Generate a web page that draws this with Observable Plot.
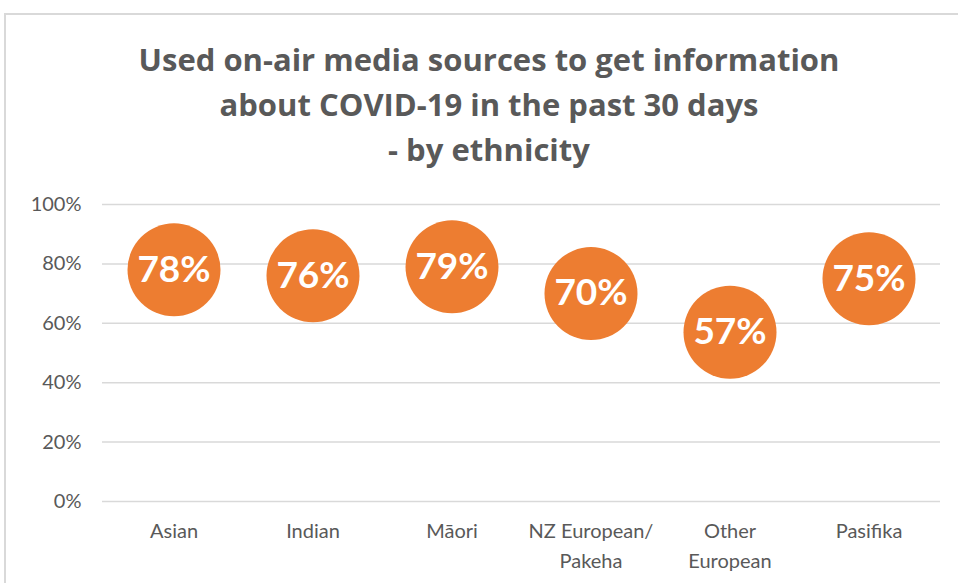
<!DOCTYPE html>
<html><head><meta charset="utf-8">
<script src="https://cdn.jsdelivr.net/npm/d3@7"></script>
<script src="https://cdn.jsdelivr.net/npm/@observablehq/plot@0.6"></script>
<style>
body{margin:0;background:#fff;overflow:hidden;}
#frame{position:absolute;left:4px;top:13px;width:1000px;height:600px;border-left:2px solid #d9d9d9;border-top:2px solid #d9d9d9;}
#title{position:absolute;left:0;top:37px;width:978px;text-align:center;font-family:"Open Sans",sans-serif;font-weight:bold;font-size:31px;color:#595959;line-height:45px;}
#chart{position:absolute;left:0;top:170px;}
</style>
</head><body>
<div id="frame"></div>
<div id="title">Used on-air media sources to get information<br>about COVID-19 in the past 30 days<br>- by ethnicity</div>
<div id="chart"></div>
<script>
const categories = ["Asian", "Indian", "Māori", "NZ European/\nPakeha", "Other\nEuropean", "Pasifika"];
const values = [0.78, 0.76, 0.79, 0.70, 0.57, 0.75];
const yTicks = [0, 0.2, 0.4, 0.6, 0.8, 1.0];

const data = categories.map((c, i) => ({cat: c, v: values[i]}));
const pct = d3.format(".0%");

const chart = Plot.plot({
  width: 958,
  height: 413,
  marginTop: 34,
  marginBottom: 82,
  marginLeft: 102,
  marginRight: 18,
  style: {fontFamily: "Lato, sans-serif", background: "transparent", color: "#595959"},
  x: {type: "band", domain: categories, padding: 0, label: null},
  y: {domain: [0, 1], label: null},
  marks: [
    Plot.gridY(yTicks, {stroke: "#d9d9d9", strokeOpacity: 1, strokeWidth: 1.5}),
    Plot.axisY(yTicks, {tickSize: 0, tickPadding: 21, tickFormat: pct, fontSize: 20, fill: "#595959", label: null}),
    Plot.axisX({tickSize: 0, tickPadding: 15, fontSize: 20, fill: "#595959", label: null, lineHeight: 1.5}),
    Plot.dot(data, {x: "cat", y: "v", r: 46.5, fill: "#ED7D31", stroke: "none"}),
    Plot.text(data, {x: "cat", y: "v", text: d => pct(d.v), fill: "white", fontSize: 37, fontWeight: "bold"})
  ]
});
document.getElementById("chart").appendChild(chart);
</script>
</body></html>
